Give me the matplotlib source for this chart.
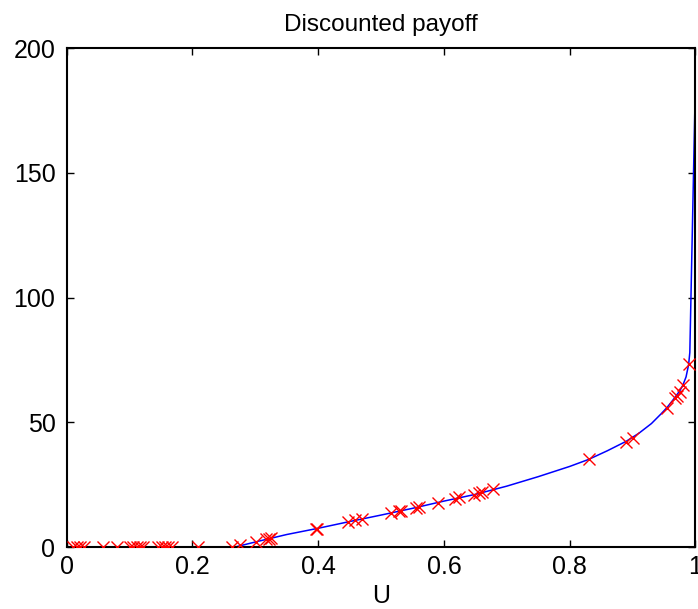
import matplotlib

matplotlib.use("Agg")
import matplotlib.pyplot as plt

plt.rcParams["font.family"] = ["Liberation Sans", "DejaVu Sans"]

# blue curve: discounted payoff as a function of U
curve_u = [0.0, 0.268, 0.30, 0.35, 0.40, 0.45, 0.50, 0.55, 0.60, 0.65, 0.70,
           0.75, 0.80, 0.83, 0.86, 0.89, 0.91, 0.93, 0.945, 0.955, 0.965,
           0.975, 0.98, 0.985, 0.989, 0.991, 0.9995]
curve_v = [0.0, 0.0, 2.0, 5.0, 7.5, 10.2, 12.8, 15.5, 18.4, 21.1, 24.4,
           28.2, 32.3, 35.1, 38.6, 42.4, 45.6, 49.5, 53.3, 56.0, 59.2,
           62.6, 64.9, 68.2, 73.0, 78.0, 182.0]

# red crosses: sampled points
sample_u = [0.011, 0.016, 0.021, 0.027, 0.058, 0.080, 0.101, 0.106, 0.112,
            0.117, 0.122, 0.146, 0.152, 0.157, 0.162, 0.167, 0.209, 0.263,
            0.276, 0.302, 0.317, 0.322, 0.325, 0.396, 0.398, 0.448, 0.459,
            0.470, 0.516, 0.528, 0.531, 0.555, 0.560, 0.590, 0.617, 0.624,
            0.648, 0.656, 0.661, 0.678, 0.830, 0.890, 0.901, 0.955, 0.967,
            0.970, 0.975, 0.980, 0.989]
sample_v = [0.0, 0.0, 0.0, 0.0, 0.0, 0.0, 0.0, 0.0, 0.0,
            0.0, 0.0, 0.0, 0.0, 0.0, 0.0, 0.0, 0.0, 0.0,
            0.7, 2.2, 3.1, 3.4, 3.6, 7.2, 7.3, 10.1, 10.8,
            11.2, 13.5, 14.3, 14.4, 15.8, 16.2, 17.8, 19.4, 19.9,
            20.8, 21.5, 21.9, 23.2, 35.1, 42.2, 43.8, 55.8, 59.6,
            60.6, 62.2, 64.9, 73.2]

x_ticks = [0, 0.2, 0.4, 0.6, 0.8, 1]
x_tick_labels = ["0", "0.2", "0.4", "0.6", "0.8", "1"]
y_ticks = [0, 50, 100, 150, 200]

fig = plt.figure(figsize=(6.98, 6.09), dpi=100)
ax = fig.add_axes([0.0953, 0.1018, 0.9011, 0.8192])

ax.plot(curve_u, curve_v, color="#0000ff", linewidth=1.1, zorder=2)
ax.plot(sample_u, sample_v, linestyle="none", marker="x", color="#ff0000",
        markersize=8.5, markeredgewidth=1.0, zorder=3)

ax.set_xlim(0, 1)
ax.set_ylim(0, 200)
ax.set_xticks(x_ticks)
ax.set_xticklabels(x_tick_labels)
ax.set_yticks(y_ticks)
ax.tick_params(direction="in", length=5, width=1, top=True, right=True,
               labelsize=18)
ax.tick_params(axis="x", pad=6)
ax.tick_params(axis="y", pad=8)
for sp in ax.spines.values():
    sp.set_linewidth(1.5)

ax.set_title("Discounted payoff", fontsize=17.5, pad=12)
ax.set_xlabel("U", fontsize=18, labelpad=3)

fig.savefig("out.png", dpi=100, facecolor="white")
